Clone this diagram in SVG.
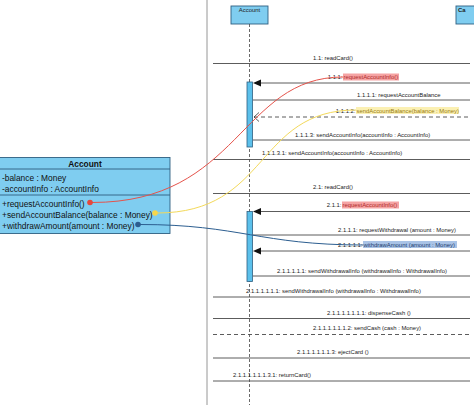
<svg xmlns="http://www.w3.org/2000/svg" width="474" height="405" viewBox="0 0 474 405">
<style>
.msg{stroke:#4a4a4a;stroke-width:0.9;fill:none}
.dash{stroke:#4a4a4a;stroke-width:0.9;fill:none;stroke-dasharray:4,3}
.t{font-family:"Liberation Sans",Arial,sans-serif;font-size:5.9px;fill:#222}
.c{font-family:"Liberation Sans",Arial,sans-serif;font-size:8.4px;fill:#111}
.head{fill:#7fcdf0;stroke:#2f5f80;stroke-width:0.9}
.bar{fill:#5bc0eb;stroke:#2f5f80;stroke-width:0.8}
</style>
<defs>
<marker id="fill" viewBox="0 0 10 10" refX="0" refY="5" markerWidth="8" markerHeight="8" markerUnits="userSpaceOnUse" orient="auto-start-reverse">
<path d="M0,0 L10,5 L0,10 z" fill="#111"/>
</marker>
</defs>
<rect width="474" height="405" fill="#ffffff"/>
<line x1="207" y1="0" x2="207" y2="405" stroke="#8a8a8a" stroke-width="0.9"/>

<g id="lifeline-account">
<rect class="head" x="231" y="6" width="37" height="18"/>
<text class="t" x="249.5" y="12" text-anchor="middle">Account</text>
<line x1="249.5" y1="24" x2="249.5" y2="405" stroke="#444" stroke-width="0.8" stroke-dasharray="3,2"/>
<rect class="bar" x="247" y="82" width="5.5" height="65"/>
<rect class="bar" x="247" y="211.5" width="5.5" height="70"/>
</g>

<g id="lifeline-card">
<rect class="head" x="456" y="6" width="26" height="18"/>
<text class="t" x="458" y="12" font-weight="bold">Ca</text>
</g>

<g id="class-account">
<rect x="-1" y="157.5" width="171" height="76" fill="#7fcdf0" stroke="#2f5f80" stroke-width="0.9"/>
<line x1="-1" y1="169" x2="170" y2="169" stroke="#2f5f80" stroke-width="0.9"/>
<line x1="-1" y1="195" x2="170" y2="195" stroke="#2f5f80" stroke-width="0.9"/>
<text class="c" x="85" y="166.5" text-anchor="middle" font-weight="bold">Account</text>
<text class="c" x="2" y="181">-balance : Money</text>
<text class="c" x="2" y="192">-accountInfo : AccountInfo</text>
<text class="c" x="2" y="207">+requestAccountInfo()</text>
<text class="c" x="2" y="217.5">+sendAccountBalance(balance : Money)</text>
<text class="c" x="2" y="228.5">+withdrawAmount(amount : Money)</text>
</g>

<g id="connectors">
<line class="msg" x1="213" y1="63.5" x2="470" y2="63.5"/>
<line class="msg" x1="470" y1="83" x2="261" y2="83" />
<path d="M253,83 L261,79.5 L261,86.5 z" fill="#111"/>
<line class="msg" x1="253" y1="100" x2="470" y2="100"/>
<line class="dash" x1="254" y1="117" x2="470" y2="117"/>
<path d="M259,112.5 L254,117 L259,121.5" fill="none" stroke="#333" stroke-width="0.8"/>
<line class="msg" x1="253" y1="140" x2="470" y2="140"/>
<line class="msg" x1="213" y1="159.5" x2="470" y2="159.5"/>
<line class="msg" x1="213" y1="193.5" x2="470" y2="193.5"/>
<line class="msg" x1="470" y1="211.5" x2="261" y2="211.5"/>
<path d="M253,211.5 L261,208 L261,215 z" fill="#111"/>
<line class="msg" x1="253" y1="235" x2="470" y2="235"/>
<line class="msg" x1="470" y1="251" x2="261" y2="251"/>
<path d="M253,251 L261,247.5 L261,254.5 z" fill="#111"/>
<line class="msg" x1="253" y1="276" x2="470" y2="276"/>
<line class="msg" x1="213" y1="297" x2="470" y2="297"/>
<line class="msg" x1="213" y1="318.5" x2="470" y2="318.5"/>
<line class="dash" x1="213" y1="334.5" x2="470" y2="334.5"/>
<line class="msg" x1="213" y1="358" x2="470" y2="358"/>
<line class="msg" x1="213" y1="381" x2="470" y2="381"/>
</g>

<g id="labels">
<text class="t" x="313" y="60">1.1: readCard()</text>
<rect x="343" y="73.5" width="56" height="7" fill="#f5a3a3"/>
<text class="t" x="342.5" y="79" text-anchor="end">1.1.1:</text>
<text class="t" x="343.5" y="79" fill="#b02a2a" style="fill:#b02a2a">requestAccountInfo()</text>
<text class="t" x="357" y="96.5">1.1.1.1: requestAccountBalance</text>
<rect x="356" y="107" width="103" height="7" fill="#fbf0b3"/>
<text class="t" x="355.5" y="112.5" text-anchor="end">1.1.1.2:</text>
<text class="t" x="356.5" y="112.5" style="fill:#9a7d10">sendAccountBalance(balance : Money)</text>
<text class="t" x="295" y="136.5">1.1.1.3: sendAccountInfo(accountInfo : AccountInfo)</text>
<text class="t" x="262" y="155">1.1.1.3.1: sendAccountInfo(accountInfo : AccountInfo)</text>
<text class="t" x="313" y="189">2.1: readCard()</text>
<rect x="342" y="201.5" width="57" height="7" fill="#f5a3a3"/>
<text class="t" x="341.5" y="207" text-anchor="end">2.1.1:</text>
<text class="t" x="342.5" y="207" style="fill:#b02a2a">requestAccountInfo()</text>
<text class="t" x="338" y="231.5">2.1.1.1: requestWithdrawal (amount : Money)</text>
<rect x="363" y="241" width="94" height="7" fill="#a9c3e6"/>
<text class="t" x="362.5" y="246.5" text-anchor="end">2.1.1.1.1:</text>
<text class="t" x="363.5" y="246.5" style="fill:#23406e">withdrawAmount (amount : Money)</text>
<text class="t" x="277" y="272.5">2.1.1.1.1.1: sendWithdrawalInfo (withdrawalInfo : WithdrawalInfo)</text>
<text class="t" x="246" y="292.5">2.1.1.1.1.1.1: sendWithdrawalInfo (withdrawalInfo : WithdrawalInfo)</text>
<text class="t" x="327" y="314.5">2.1.1.1.1.1.1.1: dispenseCash ()</text>
<text class="t" x="313" y="330">2.1.1.1.1.1.1.2: sendCash (cash : Money)</text>
<text class="t" x="297" y="353.5">2.1.1.1.1.1.1.3: ejectCard ()</text>
<text class="t" x="233" y="376.5">2.1.1.1.1.1.1.3.1: returnCard()</text>
</g>

<g id="links">
<path d="M92,202.5 C240,202.5 240,77 343,77" fill="none" stroke="#e5534b" stroke-width="1"/>
<path d="M157,213 C270,213 255,110 356,110" fill="none" stroke="#f3d95a" stroke-width="1"/>
<path d="M140,224.5 C240,224.5 260,245 363,245" fill="none" stroke="#2c5e90" stroke-width="1"/>
<circle cx="90" cy="202.5" r="2.8" fill="#e5473c"/>
<circle cx="155" cy="213" r="2.8" fill="#f7d64a"/>
<circle cx="138" cy="224.5" r="2.8" fill="#2c5e90"/>
</g>
</svg>
